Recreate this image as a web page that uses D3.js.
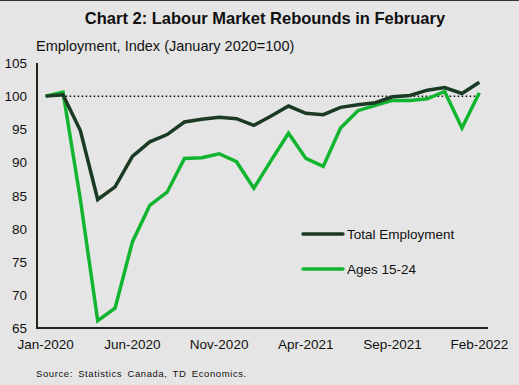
<!DOCTYPE html>
<html>
<head>
<meta charset="utf-8">
<script src="https://cdn.jsdelivr.net/npm/d3@7"></script>
<style>
  body { margin: 0; background: #e5e5e5; }
  svg { display: block; font-family: "Liberation Sans", Arial, sans-serif; }
</style>
</head>
<body>
<div id="chart"></div>
<script>
// monthly, Jan-2020 .. Feb-2022
const months = ["Jan-2020","Feb-2020","Mar-2020","Apr-2020","May-2020","Jun-2020","Jul-2020","Aug-2020","Sep-2020","Oct-2020","Nov-2020","Dec-2020",
  "Jan-2021","Feb-2021","Mar-2021","Apr-2021","May-2021","Jun-2021","Jul-2021","Aug-2021","Sep-2021","Oct-2021","Nov-2021","Dec-2021",
  "Jan-2022","Feb-2022"];
const totalEmployment = [100, 100.2, 94.8, 84.4, 86.3, 90.9, 93.1, 94.2, 96.1, 96.5, 96.8, 96.6,
  95.6, 97.0, 98.5, 97.4, 97.2, 98.3, 98.7, 99.0, 99.9, 100.1, 100.9, 101.3, 100.4, 102.1];
const ages1524 = [100, 100.6, 84.4, 66.1, 68.0, 78.0, 83.5, 85.5, 90.6, 90.7, 91.3, 90.1,
  86.1, 90.3, 94.4, 90.6, 89.4, 95.2, 97.8, 98.6, 99.35, 99.35, 99.6, 100.7, 95.2, 100.5];
const xTickLabels = ["Jan-2020","Jun-2020","Nov-2020","Apr-2021","Sep-2021","Feb-2022"];
const yTicks = [65, 70, 75, 80, 85, 90, 95, 100, 105];

const width = 519, height = 385;
const m = {left: 37, right: 488, top: 63, bottom: 328};

const svg = d3.select("#chart").append("svg")
  .attr("width", width)
  .attr("height", height);

svg.append("rect").attr("width", width).attr("height", height).attr("fill", "#e5e5e5");
svg.append("line").attr("x1", 0).attr("x2", width).attr("y1", 0.5).attr("y2", 0.5)
  .attr("stroke", "#333").attr("stroke-width", 1);

const x = d3.scalePoint().domain(months).range([m.left, m.right]).padding(0.5);
const y = d3.scaleLinear().domain([65, 105]).range([m.bottom, m.top]);

// title
svg.append("text")
  .attr("x", 265).attr("y", 24)
  .attr("text-anchor", "middle")
  .attr("font-size", 16.5).attr("font-weight", "bold")
  .attr("fill", "#111")
  .text("Chart 2: Labour Market Rebounds in February");

svg.append("text")
  .attr("x", 36).attr("y", 51)
  .attr("font-size", 14.5).attr("fill", "#111")
  .text("Employment, Index  (January 2020=100)");

// y tick labels
svg.append("g").selectAll("text")
  .data(yTicks)
  .join("text")
  .attr("x", 27).attr("y", d => y(d) + 5)
  .attr("text-anchor", "end")
  .attr("font-size", 13.5).attr("fill", "#111")
  .text(d => d);

// x tick labels
svg.append("g").selectAll("text")
  .data(xTickLabels)
  .join("text")
  .attr("x", d => x(d)).attr("y", 349)
  .attr("text-anchor", "middle")
  .attr("font-size", 13.5).attr("fill", "#111")
  .text(d => d);

// axes lines
svg.append("line").attr("x1", m.left).attr("x2", m.left).attr("y1", m.top).attr("y2", m.bottom + 1)
  .attr("stroke", "#22261a").attr("stroke-width", 2);
svg.append("line").attr("x1", m.left).attr("x2", m.right).attr("y1", m.bottom).attr("y2", m.bottom)
  .attr("stroke", "#22261a").attr("stroke-width", 2);

// 100 reference
svg.append("line")
  .attr("x1", x(months[0])).attr("x2", x(months[months.length - 1]))
  .attr("y1", y(100)).attr("y2", y(100))
  .attr("stroke", "#111").attr("stroke-width", 1.5)
  .attr("stroke-dasharray", "1.5,2.5");

const line = d3.line()
  .x((d, i) => x(months[i]))
  .y(d => y(d));

svg.append("path")
  .attr("d", line(ages1524))
  .attr("fill", "none")
  .attr("stroke", "#12b52f")
  .attr("stroke-width", 3.5)
  .attr("stroke-linejoin", "miter");

svg.append("path")
  .attr("d", line(totalEmployment))
  .attr("fill", "none")
  .attr("stroke", "#1b3a24")
  .attr("stroke-width", 3.5)
  .attr("stroke-linejoin", "miter");

// legend
const legend = [
  {name: "Total Employment", color: "#1b3a24", y: 234},
  {name: "Ages 15-24", color: "#12b52f", y: 269}
];
const lg = svg.append("g");
lg.selectAll("line")
  .data(legend)
  .join("line")
  .attr("x1", 303).attr("x2", 343)
  .attr("y1", d => d.y).attr("y2", d => d.y)
  .attr("stroke", d => d.color).attr("stroke-width", 3.5)
  .attr("stroke-linecap", "round");
lg.selectAll("text")
  .data(legend)
  .join("text")
  .attr("x", 347).attr("y", d => d.y + 5)
  .attr("font-size", 13.5).attr("fill", "#111")
  .text(d => d.name);

svg.append("text")
  .attr("x", 36).attr("y", 377)
  .attr("font-size", 9.5).attr("fill", "#111")
  .attr("letter-spacing", 0.6)
  .attr("word-spacing", 2)
  .text("Source: Statistics Canada, TD Economics.");
</script>
</body>
</html>
